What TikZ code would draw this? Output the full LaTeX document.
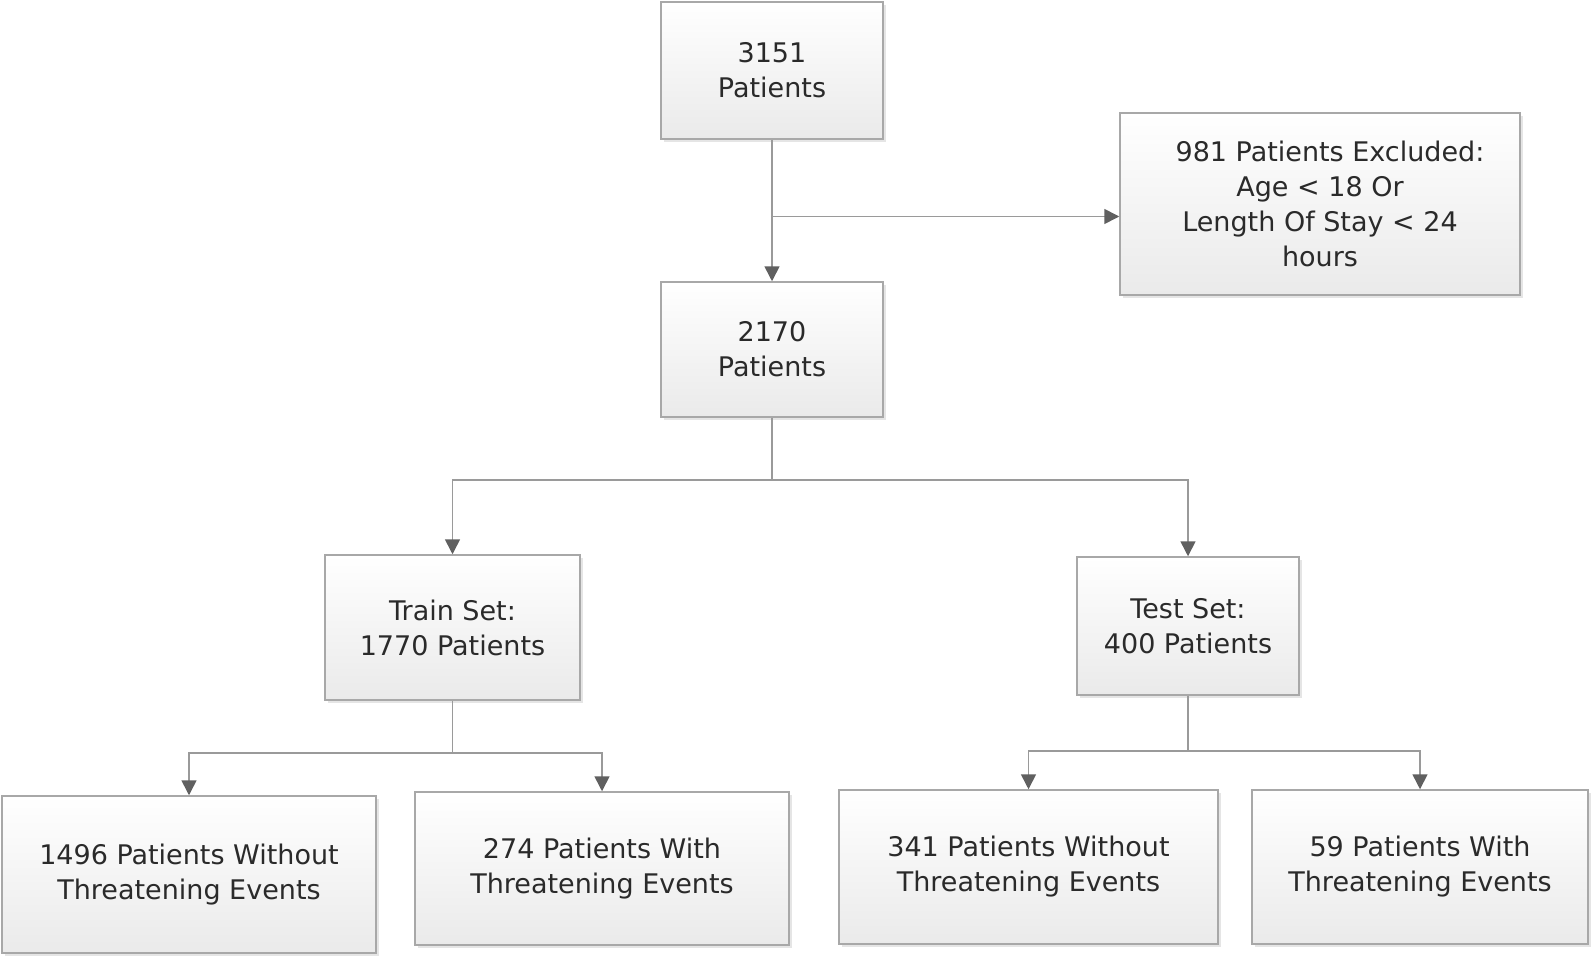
\documentclass[tikz,border=0pt]{standalone}
\usepackage{fontspec}
\setmainfont{DejaVu Sans}
\usetikzlibrary{arrows.meta,shadows}
\definecolor{txt}{HTML}{2A2A2A}
\definecolor{bord}{HTML}{A8A8A8}
\definecolor{conn}{HTML}{9A9A9A}
\definecolor{tip}{HTML}{606060}
\definecolor{boxbot}{HTML}{EAEAEA}
\begin{document}
\begin{tikzpicture}[x=1pt,y=-1pt,
  box/.style={draw=bord,line width=1.5pt,top color=white,bottom color=boxbot,
    text=txt,align=center,inner sep=0pt,
    font=\fontsize{27}{35}\selectfont,
    drop shadow={shadow xshift=3pt,shadow yshift=-3pt,opacity=0.25,fill=black!40}},
  conn/.style={draw=conn,line width=1.6pt},
  arr/.style={conn,-{Triangle[length=15pt,width=15pt,fill=tip,color=tip]}}]
\useasboundingbox (0,0) rectangle (1594,960);
\node[box,minimum width=222pt,minimum height=137pt] (n1) at (772,70.5) {3151\\Patients};
\node[box,minimum width=400pt,minimum height=182pt] (ex) at (1320,204) {\hspace*{20pt}981 Patients Excluded:\\Age < 18 Or\hspace*{10pt}\\Length Of Stay < 24\\hours};
\node[box,minimum width=222pt,minimum height=135pt] (n2) at (772,349.5) {2170\\Patients};
\node[box,minimum width=255pt,minimum height=145pt] (tr) at (452.5,627.5) {Train Set:\\1770 Patients};
\node[box,minimum width=222pt,minimum height=138pt] (te) at (1188,626) {Test Set:\\400 Patients};
\node[box,minimum width=374pt,minimum height=157pt] (b1) at (189,874.5) {1496 Patients Without\\Threatening Events};
\node[box,minimum width=374pt,minimum height=153pt] (b2) at (602,868.5) {274 Patients With\\Threatening Events};
\node[box,minimum width=379pt,minimum height=154pt] (b3) at (1028.5,867) {341 Patients Without\\Threatening Events};
\node[box,minimum width=336pt,minimum height=154pt] (b4) at (1420,867) {59 Patients With\\Threatening Events};
\coordinate (j1) at (772,216.5);
\coordinate (j2) at (772,480);
\coordinate (j3) at (452.5,753);
\coordinate (j4) at (1188,751);
\draw[arr] (n1.south) -- (n2.north);
\draw[arr] (j1) -- (j1 -| ex.west);
\draw[conn] (n2.south) -- (j2);
\draw[arr] (j2) -| (tr.north);
\draw[arr] (j2) -| (te.north);
\draw[conn] (tr.south) -- (j3);
\draw[arr] (j3) -| (b1.north);
\draw[arr] (j3) -| (b2.north);
\draw[conn] (te.south) -- (j4);
\draw[arr] (j4) -| (b3.north);
\draw[arr] (j4) -| (b4.north);
\end{tikzpicture}
\end{document}
